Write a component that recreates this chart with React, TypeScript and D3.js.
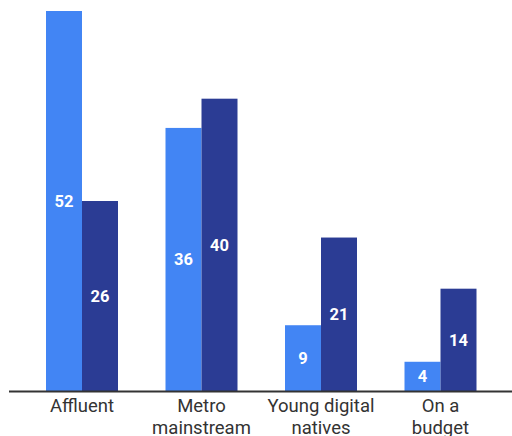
import React from "react";
import * as d3 from "d3";

const categories = ["Affluent", "Metro mainstream", "Young digital natives", "On a budget"];
const categoryLines = [["Affluent"], ["Metro", "mainstream"], ["Young digital", "natives"], ["On a", "budget"]];
const series = ["A", "B"];
const seriesA = [52, 36, 9, 4];
const seriesB = [26, 40, 21, 14];
const colors = ["#4285F4", "#2B3C94"];

const W = 512;
const H = 436;
const baseY = 391;
const topY = 11;

export default function App() {
  const x = d3
    .scaleBand<string>()
    .domain(categories)
    .range([22.25, 500.25])
    .paddingInner(0.3975)
    .paddingOuter(0.3975 / 2);
  const xs = d3.scaleBand<string>().domain(series).range([0, x.bandwidth()]).padding(0);
  const y = d3.scaleLinear().domain([0, 52]).range([baseY, topY]);
  const values = [seriesA, seriesB];
  const font = "Roboto, 'Open Sans', sans-serif";

  return (
    <svg
      width={W}
      height={H}
      style={{ position: "absolute", left: 0, top: 0, display: "block" }}
    >
      <rect width={W} height={H} fill="#fff" />
      {categories.map((c, i) => (
        <g key={c} transform={`translate(${x(c)},0)`}>
          {series.map((s, j) => {
            const v = values[j][i];
            const bx = xs(s)!;
            const by = y(v);
            return (
              <g key={s}>
                <rect x={bx} y={by} width={xs.bandwidth()} height={baseY - by} fill={colors[j]} />
                <text
                  x={bx + xs.bandwidth() / 2}
                  y={(by + baseY) / 2}
                  dy="0.36em"
                  textAnchor="middle"
                  fill="#fff"
                  fontFamily={font}
                  fontWeight={700}
                  fontSize={16.5}
                >
                  {v}
                </text>
              </g>
            );
          })}
          {categoryLines[i].map((line, k) => (
            <text
              key={k}
              x={x.bandwidth() / 2}
              y={412 + k * 22}
              textAnchor="middle"
              fill="#333"
              fontFamily={font}
              fontSize={18.5}
            >
              {line}
            </text>
          ))}
        </g>
      ))}
      <line x1={9} x2={W} y1={baseY + 0.5} y2={baseY + 0.5} stroke="#333" strokeWidth={2} />
    </svg>
  );
}
